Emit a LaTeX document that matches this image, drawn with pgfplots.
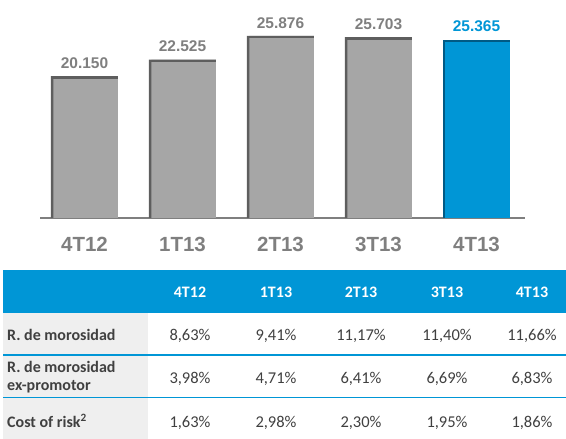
\documentclass[border=0pt]{standalone}
\usepackage{fontspec}
\setmainfont{Carlito}
\newfontfamily\arial{Liberation Sans}
\usepackage{pgfplots}
\usepackage{pgfplotstable}
\pgfplotsset{compat=1.18}
\definecolor{bargray}{HTML}{A6A6A6}
\definecolor{bardark}{HTML}{5E5E5E}
\definecolor{lblgray}{HTML}{7F7F7F}
\definecolor{cbblue}{HTML}{0096D6}
\definecolor{cbdark}{HTML}{005A85}
\definecolor{txt}{HTML}{404040}
\definecolor{rowgray}{HTML}{EFEFEF}
\pgfplotstableread{
x y
0 20150
1 22525
2 25876
3 25703
}\grayvals
\pgfplotstableread{
x y
4 25365
}\bluevals
\newcommand\valfont{\fontsize{16.5}{18}\selectfont}
\begin{document}
\begin{tikzpicture}[x=1pt,y=1pt]
\path[use as bounding box] (0,0) rectangle (566,439);
% table
\fill[cbblue] (3,126) rectangle (566,169);
\fill[rowgray] (3,0) rectangle (148,126);
\draw[cbblue, line width=2.2pt] (3,84) -- (566,84);
\draw[cbblue, line width=1pt] (3,41) -- (566,41);
\begin{scope}[every node/.style={inner sep=0pt, anchor=base}]
\foreach \xx/\lab in {190/4T12, 276/1T13, 361/2T13, 447/3T13, 532/4T13}
  \node[text=white, font=\bfseries\fontsize{16}{18}\selectfont] at (\xx,141.7) {\lab};
\node[anchor=base west, text=txt, font=\bfseries\fontsize{16}{18}\selectfont] at (7,98) {R. de morosidad};
\node[anchor=base west, text=txt, font=\bfseries\fontsize{16}{18}\selectfont] at (7,66.3) {R. de morosidad};
\node[anchor=base west, text=txt, font=\bfseries\fontsize{16}{18}\selectfont] at (7,48) {ex-promotor};
\node[anchor=base west, text=txt, font=\bfseries\fontsize{16}{18}\selectfont] at (7,11) {Cost of risk\textsuperscript{2}};
\node[text=txt, font=\valfont] at (190,98) {8,63\%};
\node[text=txt, font=\valfont] at (276,98) {9,41\%};
\node[text=txt, font=\valfont] at (361,98) {11,17\%};
\node[text=txt, font=\valfont] at (447,98) {11,40\%};
\node[text=txt, font=\valfont] at (532,98) {11,66\%};
\node[text=txt, font=\valfont] at (190,55) {3,98\%};
\node[text=txt, font=\valfont] at (276,55) {4,71\%};
\node[text=txt, font=\valfont] at (361,55) {6,41\%};
\node[text=txt, font=\valfont] at (447,55) {6,69\%};
\node[text=txt, font=\valfont] at (532,55) {6,83\%};
\node[text=txt, font=\valfont] at (190,11) {1,63\%};
\node[text=txt, font=\valfont] at (276,11) {2,98\%};
\node[text=txt, font=\valfont] at (361,11) {2,30\%};
\node[text=txt, font=\valfont] at (447,11) {1,95\%};
\node[text=txt, font=\valfont] at (532,11) {1,86\%};
\end{scope}
\begin{axis}[
  at={(40pt,221pt)}, anchor=south west,
  scale only axis, width=485pt, height=197pt,
  xmin=-0.454, xmax=4.495, ymin=0, ymax=28000,
  axis x line*=bottom, axis y line=none,
  x axis line style={-, draw=lblgray, line width=2.5pt},
  xtick={0,1,2,3,4},
  xticklabels={4T12,1T13,2T13,3T13,4T13},
  major tick length=0pt,
  xticklabel style={font=\arial\bfseries\fontsize{20.5}{22}\selectfont, text=lblgray, anchor=base, inner sep=0pt, yshift=-33.5pt},
  every node near coord/.append style={font=\arial\bfseries\fontsize{15.5}{17}\selectfont, anchor=base, inner sep=0pt, yshift=9pt},
]
\addplot[ybar, bar width=67pt, bar shift=0pt, fill=bardark, draw=none] table[x=x,y=y] {\grayvals};
\addplot[ybar, bar width=64.5pt, bar shift=1.25pt, fill=bargray, draw=none] table[x=x,y=y] {\grayvals};
\addplot[only marks, mark=-, mark size=33.5pt, mark options={line width=2.5pt, draw=bardark, yshift=-1.25pt},
  nodes near coords={\pgfmathprintnumber[fixed,precision=0,1000 sep={.},assume math mode=true]{\pgfplotspointmeta}},
  every node near coord/.append style={text=lblgray}] table[x=x,y=y] {\grayvals};
\addplot[ybar, bar width=67pt, bar shift=0pt, fill=cbdark, draw=none] table[x=x,y=y] {\bluevals};
\addplot[ybar, bar width=64.5pt, bar shift=1.25pt, fill=cbblue, draw=none] table[x=x,y=y] {\bluevals};
\addplot[only marks, mark=-, mark size=33.5pt, mark options={line width=2.5pt, draw=cbdark, yshift=-1.25pt},
  nodes near coords={\pgfmathprintnumber[fixed,precision=0,1000 sep={.},assume math mode=true]{\pgfplotspointmeta}},
  every node near coord/.append style={text=cbblue}] table[x=x,y=y] {\bluevals};
\end{axis}
\end{tikzpicture}
\end{document}
